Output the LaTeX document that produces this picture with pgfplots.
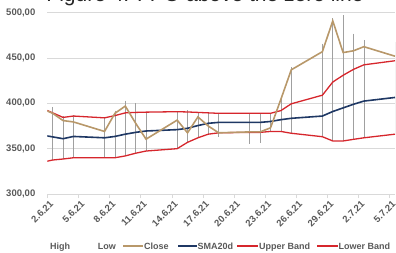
\documentclass[border=0pt]{standalone}
\usepackage{pgfplots}
\pgfplotsset{compat=1.18}
\usepackage{pgfplotstable}
\usepackage{fontspec}
\setmainfont{Liberation Sans}
\definecolor{gridc}{RGB}{217,217,217}
\definecolor{txt}{RGB}{89,89,89}
\definecolor{closec}{RGB}{184,152,106}
\definecolor{smac}{RGB}{31,56,100}
\definecolor{bandc}{RGB}{214,38,44}
\definecolor{hlc}{RGB}{160,160,160}

\pgfplotstableread{
u     close  sma    upper  lower
-0.5  394    365    394.5  335
0.5   389    363    389.5  337.5
1.5   381    361    384.5  338.6
2.5   379.5  363.5  386    340
5.5   369    362    384    340
6.5   389    363.5  386.5  340
7.5   397    366    389.5  342
8.5   378    368    390    345
9.5   360.5  369.5  390.3  347.4
12.5  381.5  371    390.8  350
13.5  367.5  372.5  390.5  357
14.5  385    375.5  390    362
15.5  375    378    389.5  366
16.5  367.5  379    389    367.5
19.5  368.5  379    389    368
20.5  368.5  379    389    368
21.5  373    380    389    369
22.5  404.5  382    392    369
23.5  437    383.5  399.5  367
26.5  457    386    409    363.2
27.5  491    391    423.5  358.5
28.5  456    395    431    358.5
29.5  458    399    437.5  360.3
30.5  462.5  402.5  442.5  362
33.5  452    406.5  447    366
}\data

\begin{document}
\begin{tikzpicture}
\useasboundingbox (-47.5pt,-58pt) rectangle (348.5pt,194pt);
\node[anchor=base, font=\fontsize{21}{25}\selectfont, text=black!85] at (157.5pt,192.5pt) {Figure 4: FPO above the zero line};
\begin{axis}[
  at={(0pt,0pt)}, anchor=south west,
  scale only axis, width=347.5pt, height=181.3pt,
  xmin=0, xmax=33.5, ymin=300, ymax=500,
  ytick={300,350,...,500},
  xtick={0,3,...,33},
  xticklabels={2.6.21,5.6.21,8.6.21,11.6.21,14.6.21,17.6.21,20.6.21,23.6.21,26.6.21,29.6.21,2.7.21,5.7.21},
  axis line style={draw=none},
  ymajorgrids, grid style={draw=gridc, line width=0.8pt},
  xtick pos=bottom, tick align=outside, major tick length=4pt,
  xtick style={draw=gridc, line width=0.8pt},
  ytick style={draw=none},
  /pgf/number format/.cd, use comma, fixed, fixed zerofill, precision=2, 1000 sep={}, assume math mode=true,
  /pgfplots/.cd,
  yticklabel style={font=\bfseries\fontsize{9.5}{10}\selectfont, text=txt, anchor=east, inner sep=0pt, xshift=-8pt},
  xticklabel style={font=\bfseries\fontsize{9.5}{11}\selectfont, text=txt, rotate=45, anchor=east, inner sep=0pt, xshift=0pt, yshift=-6pt},
  unbounded coords=jump,
]
\addplot[hlc, line width=0.6pt] coordinates {
(0.5,396) (0.5,337.5) (0.5,nan)
(1.5,386) (1.5,338.6) (1.5,nan)
(2.5,387) (2.5,340) (2.5,nan)
(5.5,385) (5.5,340) (5.5,nan)
(6.5,392) (6.5,340) (6.5,nan)
(7.5,403) (7.5,342) (7.5,nan)
(8.5,400) (8.5,345) (8.5,nan)
(9.5,390.5) (9.5,347.4) (9.5,nan)
(12.5,391.5) (12.5,350) (12.5,nan)
(13.5,392.5) (13.5,357) (13.5,nan)
(14.5,390.5) (14.5,362) (14.5,nan)
(15.5,390) (15.5,366) (15.5,nan)
(16.5,389.5) (16.5,363) (16.5,nan)
(19.5,389) (19.5,355.5) (19.5,nan)
(20.5,389) (20.5,356) (20.5,nan)
(21.5,389.5) (21.5,368.5) (21.5,nan)
(22.5,405) (22.5,368) (22.5,nan)
(23.5,440) (23.5,367) (23.5,nan)
(26.5,466) (26.5,363.2) (26.5,nan)
(27.5,494) (27.5,358.5) (27.5,nan)
(28.5,497) (28.5,358.5) (28.5,nan)
(29.5,477) (29.5,360.3) (29.5,nan)
(30.5,470) (30.5,362) (30.5,nan)
(33.5,468) (33.5,366)
};
\addplot[bandc, line width=1.3pt] table[x=u, y=upper] {\data};
\addplot[bandc, line width=1.3pt] table[x=u, y=lower] {\data};
\addplot[smac, line width=1.6pt] table[x=u, y=sma] {\data};
\addplot[closec, line width=1.6pt] table[x=u, y=close] {\data};
\end{axis}
% legend
\begin{scope}[font=\bfseries\fontsize{9}{10}\selectfont, every node/.style={text=txt, inner sep=0pt, anchor=base west}]
\node at (2.5pt,-55pt) {High};
\node at (50.2pt,-55pt) {Low};
\draw[closec, line width=2.2pt] (75.5pt,-51.8pt) -- (95.5pt,-51.8pt);
\node at (96.5pt,-55pt) {Close};
\draw[smac, line width=2.2pt] (130.5pt,-51.8pt) -- (149.5pt,-51.8pt);
\node at (149.8pt,-55pt) {SMA20d};
\draw[bandc, line width=2.2pt] (189.5pt,-51.8pt) -- (210.5pt,-51.8pt);
\node at (211.5pt,-55pt) {Upper Band};
\draw[bandc, line width=2.2pt] (269.5pt,-51.8pt) -- (290.5pt,-51.8pt);
\node at (290.8pt,-55pt) {Lower Band};
\end{scope}
\end{tikzpicture}
\end{document}
